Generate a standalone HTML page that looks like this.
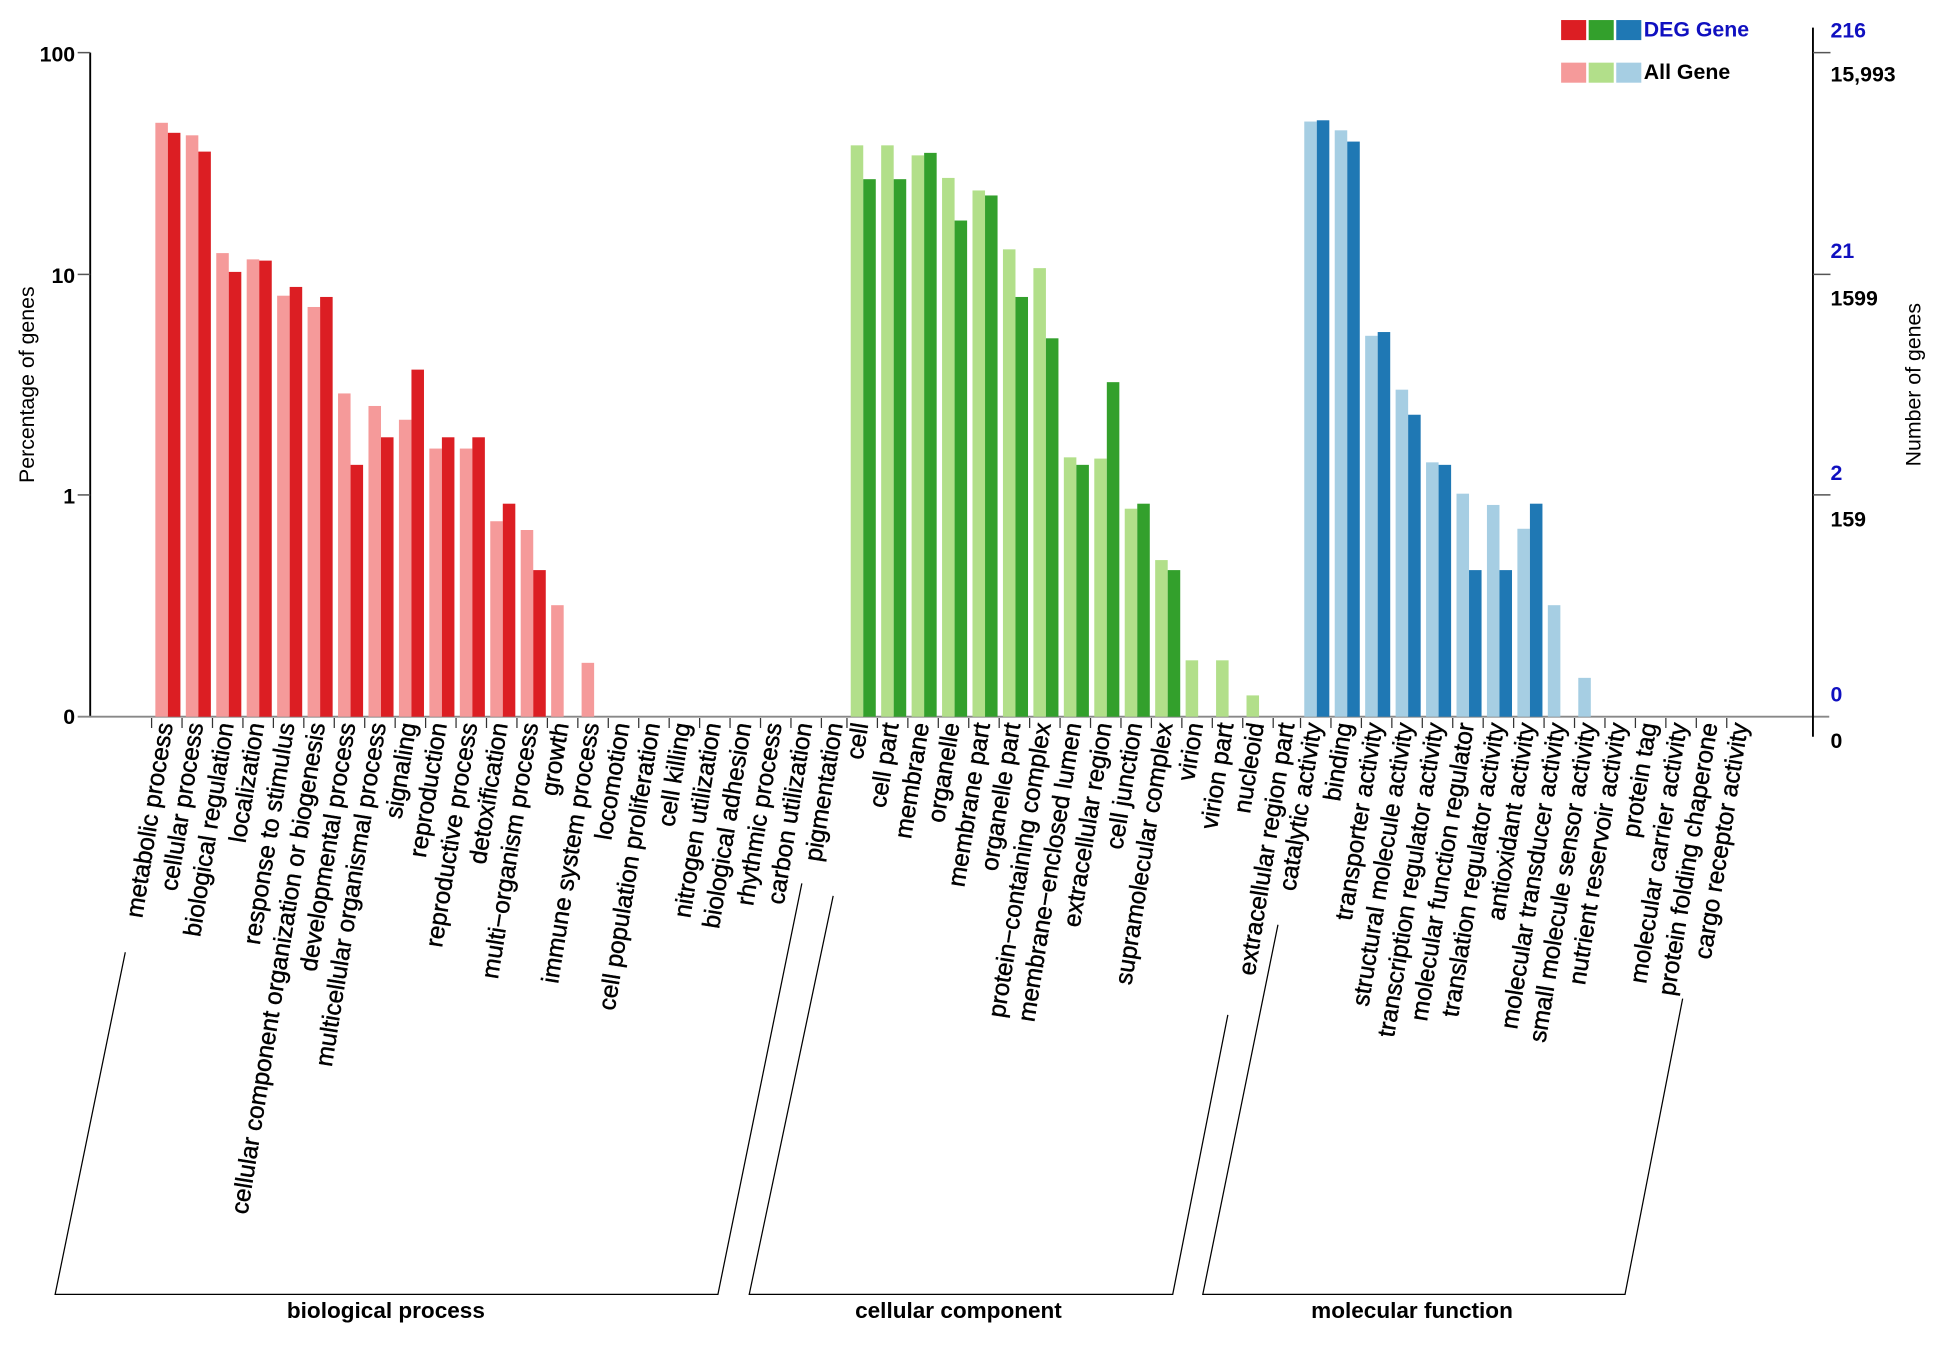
<!DOCTYPE html>
<html><head><meta charset="utf-8"><style>
html,body{margin:0;padding:0;background:#fff;}
svg{display:block;}
text{font-family:"Liberation Sans",sans-serif;}
.l{font-size:19.5px;fill:#000;stroke:#000;stroke-width:0.35;}
.b{font-weight:bold;font-size:17px;}
</style></head><body>
<svg width="1942" height="1367" viewBox="0 0 1550 1091" preserveAspectRatio="none" xmlns="http://www.w3.org/2000/svg">
<rect width="1550" height="1091" fill="#fff"/>
<line x1="72" y1="42" x2="72" y2="572" stroke="#000" stroke-width="1.5"/>
<line x1="62" y1="572" x2="1460" y2="572" stroke="#888" stroke-width="1.5"/>
<g stroke="#555" stroke-width="1.2">
<line x1="62" y1="42" x2="72" y2="42"/><line x1="62" y1="219" x2="72" y2="219"/><line x1="62" y1="395" x2="72" y2="395"/>
</g>
<line x1="1447" y1="22" x2="1447" y2="588" stroke="#000" stroke-width="1.5"/>
<g stroke="#555" stroke-width="1.2">
<line x1="1447" y1="42" x2="1461" y2="42"/><line x1="1447" y1="219" x2="1461" y2="219"/><line x1="1447" y1="395" x2="1461" y2="395"/>
</g>
<g class="b" text-anchor="end">
<text x="60" y="49">100</text><text x="60" y="226">10</text><text x="60" y="402">1</text><text x="60" y="578">0</text>
</g>
<g class="b">
<text x="1461" y="30" fill="#1010c0">216</text><text x="1461" y="65">15,993</text>
<text x="1461" y="206" fill="#1010c0">21</text><text x="1461" y="244">1599</text>
<text x="1461" y="383" fill="#1010c0">2</text><text x="1461" y="420">159</text>
<text x="1461" y="560" fill="#1010c0">0</text><text x="1461" y="597">0</text>
</g>
<text transform="translate(27,307) rotate(-90)" text-anchor="middle" style="font-size:17px">Percentage of genes</text>
<text transform="translate(1533,307) rotate(-90)" text-anchor="middle" style="font-size:17px">Number of genes</text>
<rect x="1246" y="16" width="20" height="16" fill="#dc1e23"/><rect x="1268" y="16" width="20" height="16" fill="#33a02c"/><rect x="1290" y="16" width="20" height="16" fill="#1f78b4"/>
<rect x="1246" y="50" width="20" height="16" fill="#f59a9a"/><rect x="1268" y="50" width="20" height="16" fill="#b2df8a"/><rect x="1290" y="50" width="20" height="16" fill="#a6cee3"/>
<text x="1312" y="29" class="b" fill="#1010c0">DEG Gene</text>
<text x="1312" y="63" class="b">All Gene</text>
<g fill="#f59a9a">
<rect x="124" y="98" width="10" height="474"/><rect x="148.3" y="108" width="10" height="464"/><rect x="172.6" y="202" width="10" height="370"/><rect x="196.9" y="207" width="10" height="365"/><rect x="221.2" y="236" width="10" height="336"/><rect x="245.5" y="245" width="10" height="327"/><rect x="269.8" y="314" width="10" height="258"/><rect x="294.1" y="324" width="10" height="248"/><rect x="318.4" y="335" width="10" height="237"/><rect x="342.7" y="358" width="10" height="214"/><rect x="367" y="358" width="10" height="214"/><rect x="391.3" y="416" width="10" height="156"/><rect x="415.6" y="423" width="10" height="149"/><rect x="439.9" y="483" width="10" height="89"/><rect x="464.2" y="529" width="10" height="43"/>
</g>
<g fill="#dc1e23">
<rect x="134" y="106" width="10" height="466"/><rect x="158.3" y="121" width="10" height="451"/><rect x="182.6" y="217" width="10" height="355"/><rect x="206.9" y="208" width="10" height="364"/><rect x="231.2" y="229" width="10" height="343"/><rect x="255.5" y="237" width="10" height="335"/><rect x="279.8" y="371" width="10" height="201"/><rect x="304.1" y="349" width="10" height="223"/><rect x="328.4" y="295" width="10" height="277"/><rect x="352.7" y="349" width="10" height="223"/><rect x="377" y="349" width="10" height="223"/><rect x="401.3" y="402" width="10" height="170"/><rect x="425.6" y="455" width="10" height="117"/>
</g>
<g fill="#b2df8a">
<rect x="679" y="116" width="10" height="456"/><rect x="703.3" y="116" width="10" height="456"/><rect x="727.6" y="124" width="10" height="448"/><rect x="751.9" y="142" width="10" height="430"/><rect x="776.2" y="152" width="10" height="420"/><rect x="800.5" y="199" width="10" height="373"/><rect x="824.8" y="214" width="10" height="358"/><rect x="849.1" y="365" width="10" height="207"/><rect x="873.4" y="366" width="10" height="206"/><rect x="897.7" y="406" width="10" height="166"/><rect x="922" y="447" width="10" height="125"/><rect x="946.3" y="527" width="10" height="45"/><rect x="970.6" y="527" width="10" height="45"/><rect x="994.9" y="555" width="10" height="17"/>
</g>
<g fill="#33a02c">
<rect x="689" y="143" width="10" height="429"/><rect x="713.3" y="143" width="10" height="429"/><rect x="737.6" y="122" width="10" height="450"/><rect x="761.9" y="176" width="10" height="396"/><rect x="786.2" y="156" width="10" height="416"/><rect x="810.5" y="237" width="10" height="335"/><rect x="834.8" y="270" width="10" height="302"/><rect x="859.1" y="371" width="10" height="201"/><rect x="883.4" y="305" width="10" height="267"/><rect x="907.7" y="402" width="10" height="170"/><rect x="932" y="455" width="10" height="117"/>
</g>
<g fill="#a6cee3">
<rect x="1041" y="97" width="10" height="475"/><rect x="1065.3" y="104" width="10" height="468"/><rect x="1089.6" y="268" width="10" height="304"/><rect x="1113.9" y="311" width="10" height="261"/><rect x="1138.2" y="369" width="10" height="203"/><rect x="1162.5" y="394" width="10" height="178"/><rect x="1186.8" y="403" width="10" height="169"/><rect x="1211.1" y="422" width="10" height="150"/><rect x="1235.4" y="483" width="10" height="89"/><rect x="1259.7" y="541" width="10" height="31"/>
</g>
<g fill="#1f78b4">
<rect x="1051" y="96" width="10" height="476"/><rect x="1075.3" y="113" width="10" height="459"/><rect x="1099.6" y="265" width="10" height="307"/><rect x="1123.9" y="331" width="10" height="241"/><rect x="1148.2" y="371" width="10" height="201"/><rect x="1172.5" y="455" width="10" height="117"/><rect x="1196.8" y="455" width="10" height="117"/><rect x="1221.1" y="402" width="10" height="170"/>
</g>
<g stroke="#333" stroke-width="1">
<path d="M121 573v8M145.3 573v8M169.6 573v8M193.9 573v8M218.2 573v8M242.5 573v8M266.8 573v8M291.1 573v8M315.4 573v8M339.7 573v8M364 573v8M388.3 573v8M412.6 573v8M436.9 573v8M461.2 573v8M485.5 573v8M509.8 573v8M534.1 573v8M558.4 573v8M582.7 573v8M607 573v8M631.3 573v8M655.6 573v8"/>
<path d="M676 573v8M700.3 573v8M724.6 573v8M748.9 573v8M773.2 573v8M797.5 573v8M821.8 573v8M846.1 573v8M870.4 573v8M894.7 573v8M919 573v8M943.3 573v8M967.6 573v8M991.9 573v8M1016.2 573v8"/>
<path d="M1038 573v8M1062.3 573v8M1086.6 573v8M1110.9 573v8M1135.2 573v8M1159.5 573v8M1183.8 573v8M1208.1 573v8M1232.4 573v8M1256.7 573v8M1281 573v8M1305.3 573v8M1329.6 573v8M1353.9 573v8M1378.2 573v8"/>
</g>
<g class="l" text-anchor="end">
<text transform="translate(138,578) rotate(-81)">metabolic process</text>
<text transform="translate(162.3,578) rotate(-81)">cellular process</text>
<text transform="translate(186.6,578) rotate(-81)">biological regulation</text>
<text transform="translate(210.9,578) rotate(-81)">localization</text>
<text transform="translate(235.2,578) rotate(-81)">response to stimulus</text>
<text transform="translate(259.5,578) rotate(-81)">cellular component organization or biogenesis</text>
<text transform="translate(283.8,578) rotate(-81)">developmental process</text>
<text transform="translate(308.1,578) rotate(-81)">multicellular organismal process</text>
<text transform="translate(332.4,578) rotate(-81)">signaling</text>
<text transform="translate(356.7,578) rotate(-81)">reproduction</text>
<text transform="translate(381,578) rotate(-81)">reproductive process</text>
<text transform="translate(405.3,578) rotate(-81)">detoxification</text>
<text transform="translate(429.6,578) rotate(-81)">multi−organism process</text>
<text transform="translate(453.9,578) rotate(-81)">growth</text>
<text transform="translate(478.2,578) rotate(-81)">immune system process</text>
<text transform="translate(502.5,578) rotate(-81)">locomotion</text>
<text transform="translate(526.8,578) rotate(-81)">cell population proliferation</text>
<text transform="translate(551.1,578) rotate(-81)">cell killing</text>
<text transform="translate(575.4,578) rotate(-81)">nitrogen utilization</text>
<text transform="translate(599.7,578) rotate(-81)">biological adhesion</text>
<text transform="translate(624,578) rotate(-81)">rhythmic process</text>
<text transform="translate(648.3,578) rotate(-81)">carbon utilization</text>
<text transform="translate(672.6,578) rotate(-81)">pigmentation</text>
<text transform="translate(693,578) rotate(-81)">cell</text>
<text transform="translate(717.3,578) rotate(-81)">cell part</text>
<text transform="translate(741.6,578) rotate(-81)">membrane</text>
<text transform="translate(765.9,578) rotate(-81)">organelle</text>
<text transform="translate(790.2,578) rotate(-81)">membrane part</text>
<text transform="translate(814.5,578) rotate(-81)">organelle part</text>
<text transform="translate(838.8,578) rotate(-81)">protein−containing complex</text>
<text transform="translate(863.1,578) rotate(-81)">membrane−enclosed lumen</text>
<text transform="translate(887.4,578) rotate(-81)">extracellular region</text>
<text transform="translate(911.7,578) rotate(-81)">cell junction</text>
<text transform="translate(936,578) rotate(-81)">supramolecular complex</text>
<text transform="translate(960.3,578) rotate(-81)">virion</text>
<text transform="translate(984.6,578) rotate(-81)">virion part</text>
<text transform="translate(1008.9,578) rotate(-81)">nucleoid</text>
<text transform="translate(1033.2,578) rotate(-81)">extracellular region part</text>
<text transform="translate(1055,578) rotate(-81)">catalytic activity</text>
<text transform="translate(1079.3,578) rotate(-81)">binding</text>
<text transform="translate(1103.6,578) rotate(-81)">transporter activity</text>
<text transform="translate(1127.9,578) rotate(-81)">structural molecule activity</text>
<text transform="translate(1152.2,578) rotate(-81)">transcription regulator activity</text>
<text transform="translate(1176.5,578) rotate(-81)">molecular function regulator</text>
<text transform="translate(1200.8,578) rotate(-81)">translation regulator activity</text>
<text transform="translate(1225.1,578) rotate(-81)">antioxidant activity</text>
<text transform="translate(1249.4,578) rotate(-81)">molecular transducer activity</text>
<text transform="translate(1273.7,578) rotate(-81)">small molecule sensor activity</text>
<text transform="translate(1298,578) rotate(-81)">nutrient reservoir activity</text>
<text transform="translate(1322.3,578) rotate(-81)">protein tag</text>
<text transform="translate(1346.6,578) rotate(-81)">molecular carrier activity</text>
<text transform="translate(1370.9,578) rotate(-81)">protein folding chaperone</text>
<text transform="translate(1395.2,578) rotate(-81)">cargo receptor activity</text>
</g>
<g fill="none" stroke="#000" stroke-width="1">
<polyline points="100,760 44,1033 573,1033 640,705"/>
<polyline points="665,715 598,1033 936,1033 980,810"/>
<polyline points="1020,738 960,1033 1297,1033 1343,797"/>
</g>
<g class="b" text-anchor="middle" style="font-size:18px">
<text x="308" y="1052">biological process</text>
<text x="765" y="1052">cellular component</text>
<text x="1127" y="1052">molecular function</text>
</g>
</svg>
</body></html>
